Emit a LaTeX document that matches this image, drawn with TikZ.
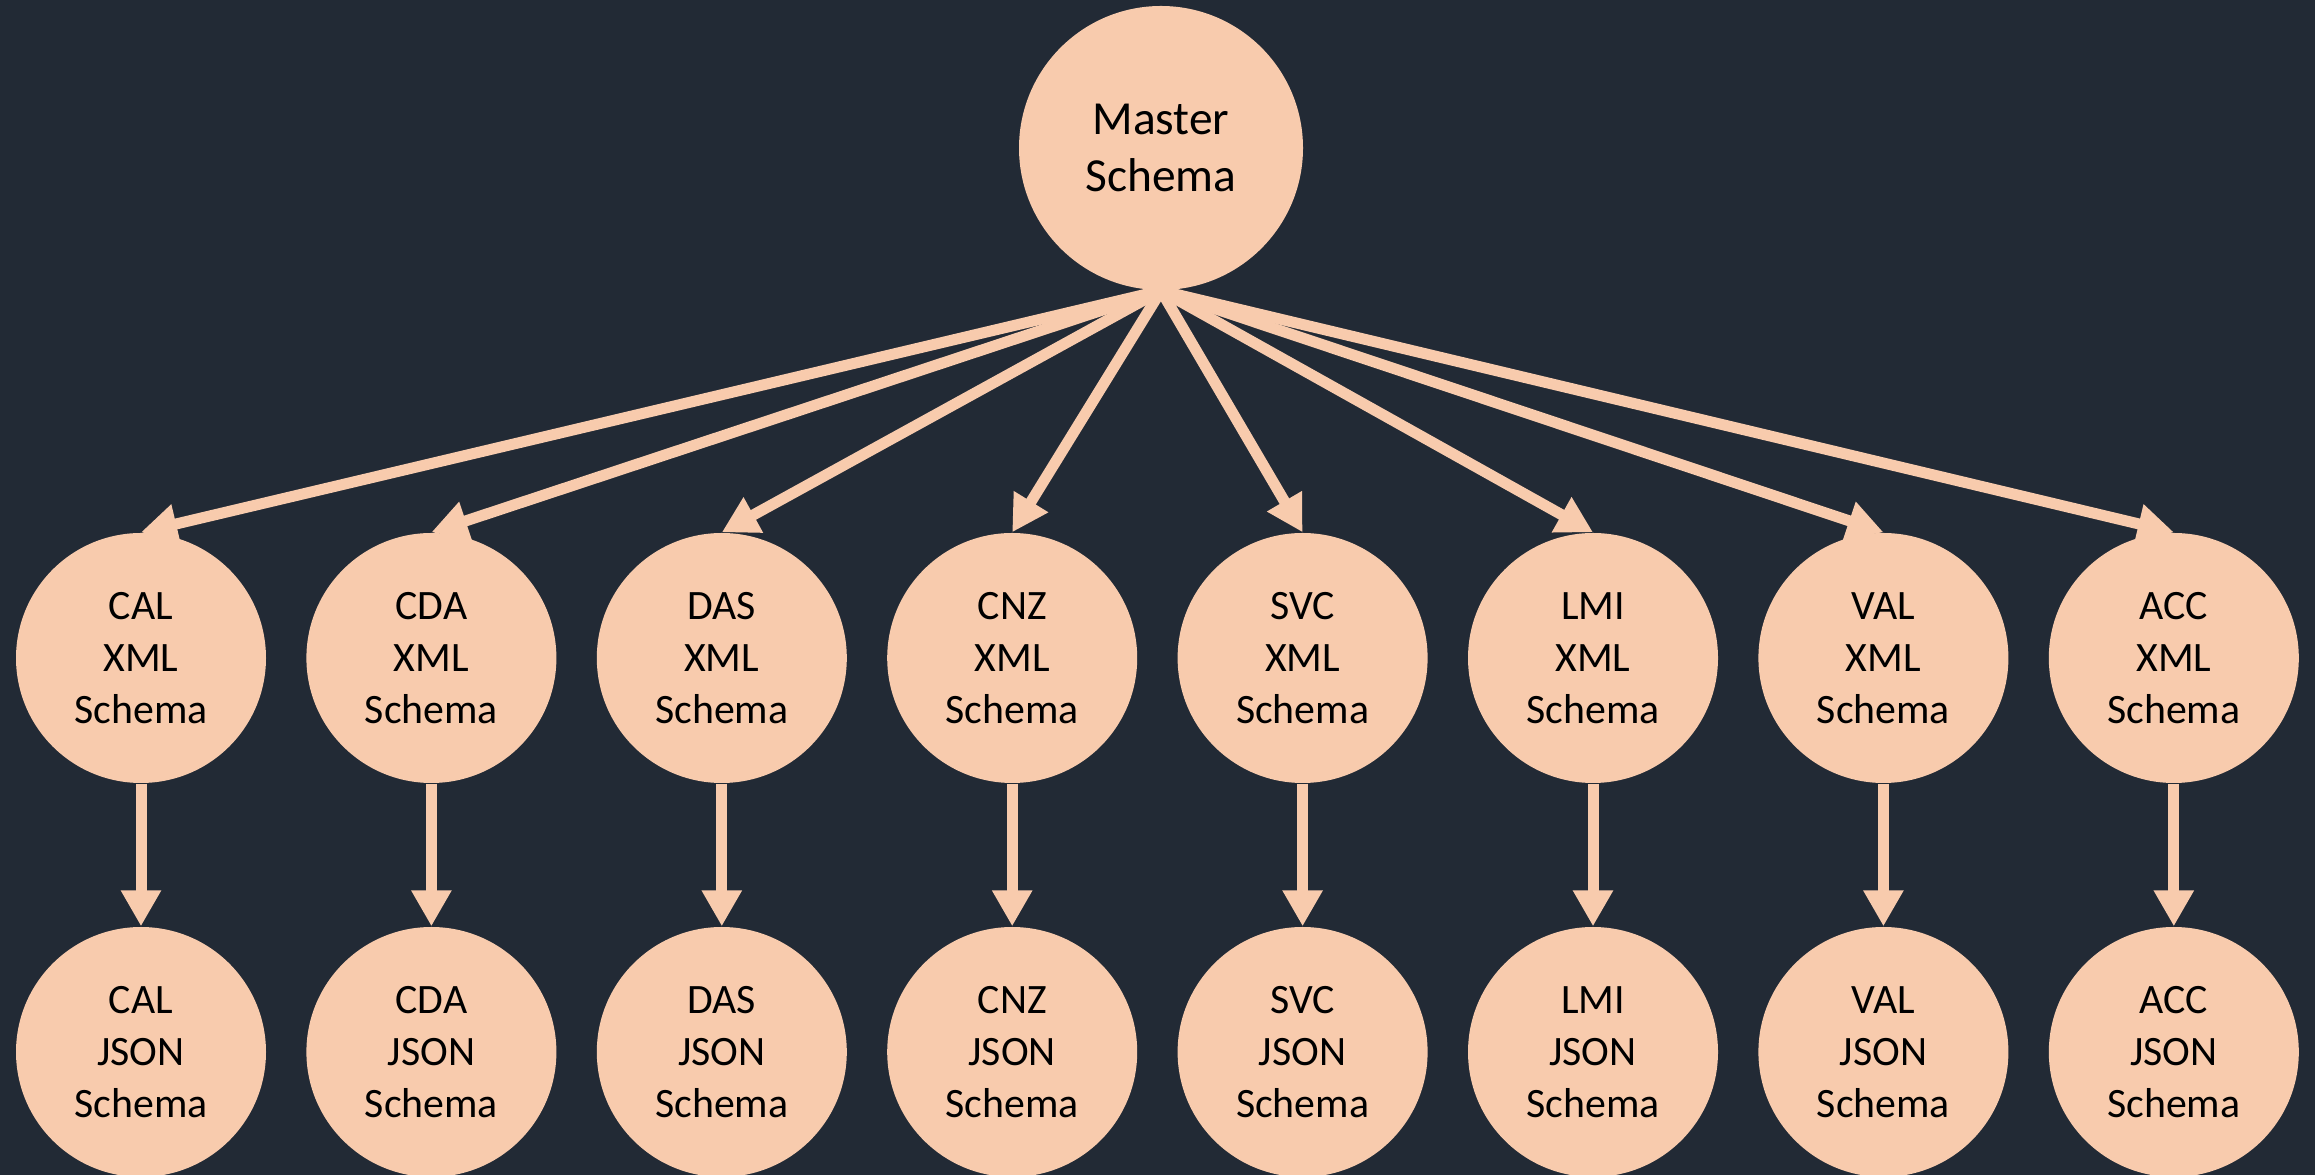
\documentclass[tikz,border=0pt]{standalone}
\usepackage{fontspec}
\setmainfont{Carlito}
\usepackage{xcolor}
\usepackage{tikz}
\usetikzlibrary{arrows.meta}
\definecolor{fond}{HTML}{222A35}
\definecolor{peche}{HTML}{F8CBAD}

\begin{document}
\begin{tikzpicture}
	\tikzstyle{rond}=[circle, fill=peche, text=black, align=center, inner sep=0pt, minimum size=2.5cm, font=\fontsize{11.9}{14.8}\selectfont]
	\tikzstyle{lien}=[-{Triangle[length=3.6mm,width=3.8mm]}, line width=1.1mm, color=peche]
	\fill[color=fond] (0,0) rectangle (23.15,11.75);
	\useasboundingbox (0,0) rectangle (23.15,11.75);

	\node[rond, minimum size=2.84cm, font=\fontsize{13.5}{16.3}\selectfont] (master) at (11.61,10.27) {Master\\Schema};
	\foreach \nom [count=\i from 0] in {CAL,CDA,DAS,CNZ,SVC,LMI,VAL,ACC} {
		\node[rond] (xml\nom) at (1.41+2.904*\i,5.17) {\nom\\XML\\Schema};
		\node[rond] (json\nom) at (1.41+2.904*\i,1.23) {\nom\\JSON\\Schema};
		\draw[lien] (master.south) -- (xml\nom.north);
		\draw[lien] (xml\nom.south) -- (json\nom.north);
	}
\end{tikzpicture}
\end{document}
